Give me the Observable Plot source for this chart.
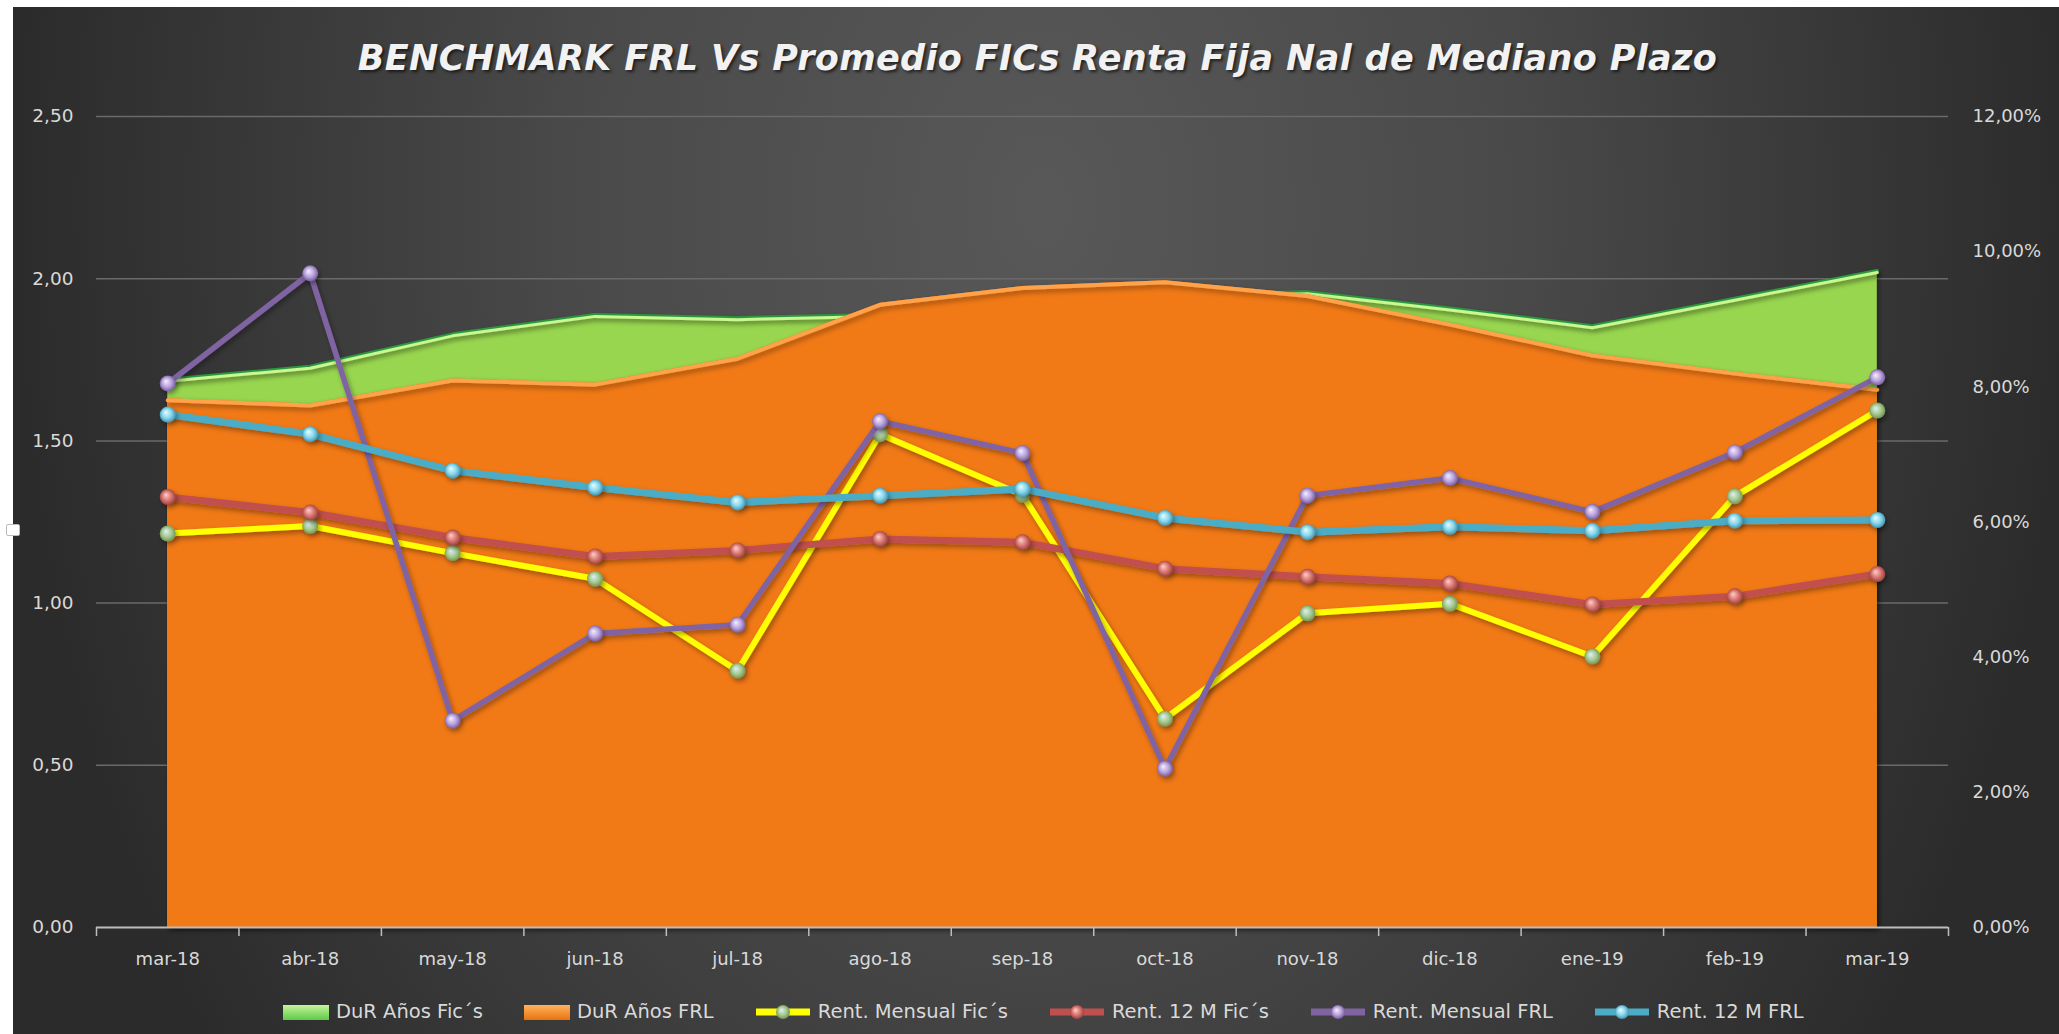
<!DOCTYPE html>
<html>
<head>
<meta charset="utf-8">
<script src="https://cdn.jsdelivr.net/npm/d3@7"></script>
<script src="https://cdn.jsdelivr.net/npm/@observablehq/plot@0.6"></script>
<style>
  html, body { margin: 0; padding: 0; background: #ffffff; width: 2059px; height: 1034px; overflow: hidden; }
  #bg { position: absolute; left: 13px; top: 7px; width: 2046px; height: 1027px;
        background: radial-gradient(ellipse 1150px 1600px at 1030px 200px, #585858 0%, #4a4a4a 40%, #2b2b2b 90%); }
  #title { position: absolute; left: 8px; width: 2059px; top: 38px; text-align: center;
           font-family: "DejaVu Sans", sans-serif; font-weight: bold; font-style: italic;
           font-size: 35px; letter-spacing: 0.35px; color: #f2f2f2; text-shadow: 2px 2px 3px rgba(0,0,0,0.6); }
  #plot { position: absolute; left: 0; top: 80px; }
  #legend { position: absolute; top: 1000px; left: 282px; display: flex; align-items: center;
            font-family: "DejaVu Sans", sans-serif; font-size: 19.5px; color: #d9d9d9; white-space: nowrap; }
  #legend .item { display: flex; align-items: center; margin-right: 40px; }
  #legend svg { margin-right: 6px; }
  #handle { position: absolute; left: 6px; top: 524px; width: 12px; height: 10px; background: #fff; border-radius: 2px; border: 1px solid #bbb; }
</style>
</head>
<body>
<div id="bg"></div>
<div id="handle"></div>
<div id="title">BENCHMARK FRL Vs Promedio FICs Renta Fija Nal de Mediano Plazo</div>
<div id="plot"></div>
<div id="legend"></div>
<script>
// ---------- data ----------
const months = ["mar-18","abr-18","may-18","jun-18","jul-18","ago-18","sep-18","oct-18","nov-18","dic-18","ene-19","feb-19","mar-19"];
// Duration in years (left axis)
const durAniosFics = [1.69, 1.73, 1.83, 1.89, 1.88, 1.89, 1.92, 1.95, 1.96, 1.91, 1.855, 1.94, 2.025];
const durAniosFRL  = [1.63, 1.614, 1.691, 1.678, 1.758, 1.924, 1.976, 1.994, 1.951, 1.863, 1.768, 1.712, 1.662];
// Returns in % (right axis)
const rentMensualFics = [5.83, 5.94, 5.54, 5.16, 3.80, 7.30, 6.40, 3.09, 4.65, 4.79, 4.01, 6.38, 7.65];
const rent12MFics     = [6.37, 6.14, 5.77, 5.49, 5.58, 5.75, 5.70, 5.31, 5.19, 5.09, 4.78, 4.90, 5.23];
const rentMensualFRL  = [8.05, 9.68, 3.06, 4.35, 4.48, 7.49, 7.02, 2.35, 6.39, 6.65, 6.15, 7.03, 8.14];
const rent12MFRL      = [7.59, 7.30, 6.76, 6.51, 6.29, 6.39, 6.49, 6.06, 5.85, 5.93, 5.87, 6.02, 6.03];
const leftTicks  = [0, 0.5, 1, 1.5, 2, 2.5];
const rightTicks = [0, 2, 4, 6, 8, 10, 12];
const legendLabels = ["DuR Años Fic´s", "DuR Años FRL", "Rent. Mensual Fic´s", "Rent. 12 M Fic´s", "Rent. Mensual FRL", "Rent. 12 M FRL"];

// ---------- helpers ----------
const PCT_PER_UNIT = rightTicks[rightTicks.length - 1] / leftTicks[leftTicks.length - 1]; // 12% <-> 2.5
const rows = arr => arr.map((v, i) => ({i, v}));
const pctRows = arr => arr.map((v, i) => ({i, v: v / PCT_PER_UNIT}));
const comma = (v, d) => v.toFixed(d).replace(".", ",");

const series = [
  {values: rentMensualFics, color: "#ffff00", width: 6, grad: "gY"},
  {values: rent12MFics,     color: "#c0504d", width: 7, grad: "gR"},
  {values: rentMensualFRL,  color: "#8064a2", width: 5.5, grad: "gP"},
  {values: rent12MFRL,      color: "#4bacc6", width: 7, grad: "gC"}
];

const W = 2059, H = 890;
const chart = Plot.plot({
  width: W, height: H,
  marginLeft: 96, marginRight: 111, marginTop: 36, marginBottom: 43,
  style: {fontFamily: "DejaVu Sans, sans-serif", fontSize: "18px", color: "#d9d9d9", background: "transparent", overflow: "visible"},
  x: {domain: [-0.5, months.length - 0.5], axis: null},
  y: {domain: [0, 2.5], axis: null},
  marks: [
    Plot.gridY({ticks: leftTicks.slice(1), stroke: "#6a6a6a", strokeOpacity: 1, strokeWidth: 1.5}),
    // green area (behind)
    Plot.areaY(rows(durAniosFics), {x: "i", y: "v", fill: "#98d650"}),
    Plot.line(rows(durAniosFics), {x: "i", y: "v", stroke: "#2a9a40", strokeWidth: 3}),
    Plot.line(rows(durAniosFics), {x: "i", y: "v", stroke: "#c8f890", strokeWidth: 3, dy: 2}),
    // orange area
    Plot.areaY(rows(durAniosFRL), {x: "i", y: "v", fill: "#f17913"}),
    Plot.line(rows(durAniosFRL), {x: "i", y: "v", stroke: "#ffa24a", strokeWidth: 4, dy: 1.5}),
    // lines with markers
    ...series.flatMap(s => [
      Plot.line(pctRows(s.values), {x: "i", y: "v", stroke: s.color, strokeWidth: s.width, strokeLinejoin: "round", strokeLinecap: "round"}),
      Plot.dot(pctRows(s.values), {x: "i", y: "v", r: 8, fill: `url(#${s.grad})`, stroke: "none"})
    ]),
    // x axis line and ticks
    Plot.ruleY([0], {stroke: "#bdbdbd", strokeWidth: 2}),
    Plot.axisX({ticks: d3.range(-0.5, months.length, 1), tickSize: 9, tickFormat: () => "", stroke: "#bdbdbd", strokeWidth: 1.5, label: null}),
    Plot.axisX({ticks: d3.range(months.length), tickSize: 0, tickPadding: 25, tickFormat: i => months[i], label: null, fontSize: 18}),
    // left axis
    Plot.axisY({anchor: "left", ticks: leftTicks, tickSize: 0, tickPadding: 23, tickFormat: v => comma(v, 2), label: null, fontSize: 18.5}),
    // right axis (percent)
    Plot.axisY({anchor: "right", ticks: rightTicks.map(p => p / PCT_PER_UNIT), tickSize: 0, tickPadding: 24,
                tickFormat: v => comma(v * PCT_PER_UNIT, 2) + "%", label: null, fontSize: 18})
  ]
});

// gradients / shadow defs
const svg = d3.select(chart.tagName.toLowerCase() === "svg" ? chart : chart.querySelector("svg"));
const defs = svg.insert("defs", ":first-child");
const grads = {
  gY: ["#dff0ff", "#a6c98c", "#6c8a4c"],
  gR: ["#ffd0c8", "#d9736e", "#8e3a38"],
  gP: ["#f6f0ff", "#b9a1dc", "#6a5192"],
  gC: ["#eafcff", "#84d6ec", "#3a88a2"]
};
for (const [id, [c0, c1, c2]] of Object.entries(grads)) {
  const g = defs.append("radialGradient").attr("id", id).attr("cx", "50%").attr("cy", "50%").attr("r", "55%").attr("fx", "38%").attr("fy", "35%");
  g.append("stop").attr("offset", "0%").attr("stop-color", c0);
  g.append("stop").attr("offset", "55%").attr("stop-color", c1);
  g.append("stop").attr("offset", "100%").attr("stop-color", c2);
}
const f = defs.append("filter").attr("id", "sh").attr("x", "-10%").attr("y", "-10%").attr("width", "120%").attr("height", "120%");
f.append("feDropShadow").attr("dx", 2).attr("dy", 3).attr("stdDeviation", 2.5).attr("flood-color", "#000").attr("flood-opacity", 0.35);
svg.selectAll('g[aria-label="line"], g[aria-label="dot"]').attr("filter", "url(#sh)");
svg.selectAll('g[aria-label="area"]').attr("filter", "url(#sh)");

document.getElementById("plot").appendChild(chart);

// legend
const legend = d3.select("#legend");
const swatch = [
  {type: "area", c0: "#c6f59a", c1: "#5fc94a"},
  {type: "area", c0: "#ffb35c", c1: "#e8730e"},
  {type: "line", color: "#ffff00", grad: "gY"},
  {type: "line", color: "#c0504d", grad: "gR"},
  {type: "line", color: "#8064a2", grad: "gP"},
  {type: "line", color: "#4bacc6", grad: "gC"}
];
legendLabels.forEach((lab, k) => {
  const it = legend.append("div").attr("class", "item");
  const s = swatch[k];
  const sv = it.append("svg").attr("width", s.type === "area" ? 48 : 58).attr("height", 22);
  if (s.type === "area") {
    const gid = "lg" + k;
    const lg = sv.append("defs").append("linearGradient").attr("id", gid).attr("x1", 0).attr("x2", 0).attr("y1", 0).attr("y2", 1);
    lg.append("stop").attr("offset", "0%").attr("stop-color", s.c0);
    lg.append("stop").attr("offset", "100%").attr("stop-color", s.c1);
    sv.append("rect").attr("x", 1).attr("y", 4).attr("width", 46).attr("height", 15).attr("fill", `url(#${gid})`);
  } else {
    sv.append("line").attr("x1", 2).attr("x2", 56).attr("y1", 11).attr("y2", 11).attr("stroke", s.color).attr("stroke-width", 7);
    sv.append("circle").attr("cx", 29).attr("cy", 11).attr("r", 7).attr("fill", `url(#${s.grad})`);
  }
  it.append("span").text(lab);
});
</script>
</body>
</html>
